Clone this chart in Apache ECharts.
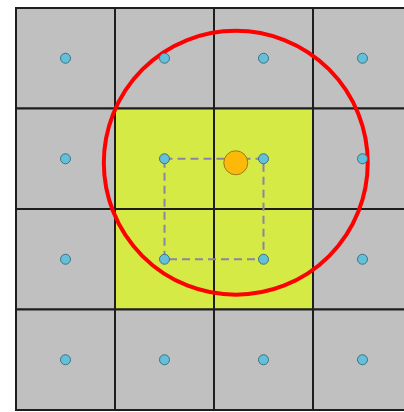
<!DOCTYPE html>
<html>
<head>
<meta charset="utf-8">
<script src="https://cdn.jsdelivr.net/npm/echarts@6/dist/echarts.min.js"></script>
<style>
html,body{margin:0;padding:0;background:#fff;}
#chart{width:404px;height:412px;}
</style>
</head>
<body>
<div id="chart"></div>
<script>
// grid of 4x4 cells (column, row), row 0 at top
const columns = [0, 1, 2, 3];
const rows = [0, 1, 2, 3];
const highlightedCells = [[1, 1], [2, 1], [1, 2], [2, 2]];
// cell centre points
const pointX = [0.5, 1.5, 2.5, 3.5];
const pointY = [0.5, 1.5, 2.5, 3.5];
// query point and search radius (in cell units)
const queryPoint = [2.22, 1.54];
const searchRadius = 1.333;
// dashed square joining the four nearest centres
const neighborSquare = [[1.5, 1.5], [2.5, 1.5], [2.5, 2.5], [1.5, 2.5], [1.5, 1.5]];

const cells = [];
rows.forEach(r => columns.forEach(c => {
  const hl = highlightedCells.some(h => h[0] === c && h[1] === r) ? 1 : 0;
  cells.push([c, r, hl]);
}));
const centers = [];
pointY.forEach(y => pointX.forEach(x => centers.push([x, y])));

const chart = echarts.init(document.getElementById('chart'));
chart.setOption({
  animation: false,
  backgroundColor: '#ffffff',
  grid: { left: 16, top: 8, width: 396, height: 402, outerBoundsMode: 'none', containLabel: false },
  xAxis: { type: 'value', min: 0, max: 4, show: false },
  yAxis: { type: 'value', min: 0, max: 4, inverse: true, show: false },
  series: [
    {
      type: 'custom', z: 1,
      encode: { x: 0, y: 1 },
      data: cells,
      renderItem: function (params, api) {
        const c = api.value(0), r = api.value(1), hl = api.value(2);
        const p0 = api.coord([c, r]);
        const p1 = api.coord([c + 1, r + 1]);
        return {
          type: 'rect',
          shape: { x: p0[0], y: p0[1], width: p1[0] - p0[0], height: p1[1] - p0[1] },
          style: { fill: hl ? '#d5ea45' : '#c0c0c0', stroke: '#1e1e1e', lineWidth: 2 }
        };
      }
    },
    {
      type: 'custom', z: 2,
      encode: { x: 0, y: 1 },
      data: [[queryPoint[0], queryPoint[1], searchRadius]],
      renderItem: function (params, api) {
        const p = api.coord([api.value(0), api.value(1)]);
        const rad = api.size([api.value(2), 0])[0];
        return {
          type: 'circle',
          shape: { cx: p[0], cy: p[1], r: rad },
          style: { fill: 'none', stroke: '#ff0000', lineWidth: 4 }
        };
      }
    },
    {
      type: 'line', z: 3,
      data: neighborSquare,
      symbol: 'none',
      lineStyle: { type: [8, 5], color: '#8a84a6', width: 2 }
    },
    {
      type: 'scatter', z: 4,
      data: centers,
      symbolSize: 10,
      itemStyle: { color: '#64bfd8', borderColor: '#3d7285', borderWidth: 1, opacity: 1 }
    },
    {
      type: 'scatter', z: 5,
      data: [queryPoint],
      symbolSize: 24,
      itemStyle: { color: '#fdb90a', borderColor: '#9c7a16', borderWidth: 1, opacity: 1 }
    }
  ]
});
</script>
</body>
</html>
